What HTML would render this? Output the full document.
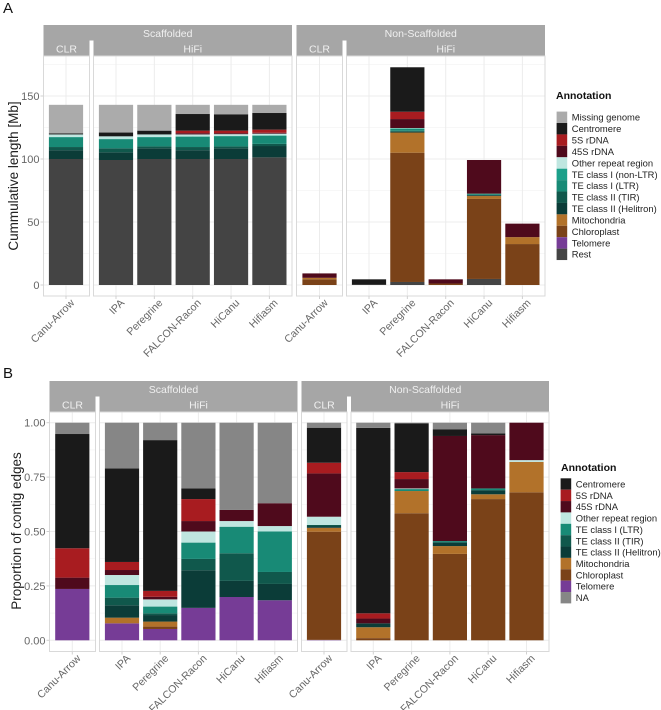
<!DOCTYPE html>
<html lang="en">
<head>
<meta charset="utf-8">
<title>Cumulative length and proportion of contig edges by annotation</title>
<style>
  html, body { margin: 0; padding: 0; background: #ffffff; overflow: hidden; }
  #figure { display: block; width: 661px; height: 710px; font-family: "Liberation Sans", sans-serif; filter: blur(0.35px); }
  #figure text { font-family: "Liberation Sans", sans-serif; }
</style>
</head>
<body>
<svg id="figure" xmlns="http://www.w3.org/2000/svg" width="661" height="710" viewBox="0 0 661 710">
  <text x="3" y="13" font-size="15" fill="#111">A</text>
  <text x="3" y="378" font-size="15" fill="#111">B</text>
  <text transform="translate(18,176) rotate(-90)" text-anchor="middle" font-size="13.5" fill="#222">Cummulative length [Mb]</text>
  <text transform="translate(21,531) rotate(-90)" text-anchor="middle" font-size="13.5" fill="#222">Proportion of contig edges</text>
  <g id="chart-a"></g>
  <g id="chart-b"></g>
  <text x="556" y="99" font-size="10.5" font-weight="bold" fill="#111">Annotation</text>
  <text x="561" y="471" font-size="10.5" font-weight="bold" fill="#111">Annotation</text>
  <g id="legend-a"></g>
  <g id="legend-b"></g>
</svg>
<script>
// Shared categories
const assemblers = ['Canu-Arrow', 'IPA', 'Peregrine', 'FALCON-Racon', 'HiCanu', 'Hifiasm'];

// Panel A: length in Mb. Order: six scaffolded then six non-scaffolded assemblers.
const aRest      = [100, 99.2, 100, 100, 100, 101.3,   0, 0.2, 2.4, 0, 4.8, 0];
const aTelomere  = [0, 0, 0, 0, 0, 0,                  0, 0, 0, 0, 0, 0];
const aChloro    = [0, 0, 0, 0, 0, 0,                  4.5, 0, 102.6, 1.2, 63.5, 32.5];
const aMito      = [0, 0, 0, 0, 0, 0,                  1.2, 0, 16, 0, 2.3, 5.5];
const aHelitron  = [7, 6.1, 8.5, 7, 8.5, 9,            0, 0, 0.6, 0, 0.6, 0];
const aTir       = [2.5, 3.2, 1.5, 2.5, 1.5, 1.7,      0, 0, 0.8, 0, 0.4, 0];
const aLtr       = [7.7, 7.2, 7.2, 8.2, 8, 6.5,        0, 0, 1.7, 0, 0.8, 0];
const aNonLtr    = [0.3, 0.3, 0.3, 0.3, 0.3, 0.3,      0, 0, 0.3, 0, 0.1, 0];
const aOther     = [2, 2, 2, 1.5, 1.4, 1.3,            0, 0, 0.2, 0, 0, 0];
const a45s       = [0, 0, 0, 1, 0.8, 0.7,              3.5, 0, 7.1, 3.3, 26.7, 10.7];
const a5s        = [0, 0, 0, 2, 2, 2.5,                0, 0, 5.8, 0, 0, 0];
const aCentro    = [0.9, 3, 3, 13.2, 13, 13.2,         0, 4.3, 35.3, 0, 0, 0];
const aMissing   = [22.6, 22, 20.5, 7.3, 7.5, 6.5,     0, 0, 0, 0, 0, 0];
const aTicks     = [0, 50, 100, 150];
const aTickLabels = ['0', '50', '100', '150'];
const aMinorTicks = [25, 75, 125, 175];

// Panel B: proportion of contig edges.
const bTelomere  = [0.236, 0.078, 0.052, 0.149, 0.199, 0.184,  0.002, 0, 0, 0, 0, 0];
const bChloro    = [0, 0, 0.011, 0, 0, 0,                      0.497, 0.01, 0.584, 0.397, 0.649, 0.68];
const bMito      = [0, 0.026, 0.023, 0, 0, 0,                  0.018, 0.05, 0.102, 0.036, 0.022, 0.14];
const bHelitron  = [0, 0.057, 0.03, 0.173, 0.074, 0.075,       0.006, 0.018, 0, 0.017, 0.019, 0];
const bTir       = [0, 0.035, 0.008, 0.052, 0.127, 0.055,      0.007, 0, 0, 0, 0, 0];
const bLtr       = [0, 0.058, 0.031, 0.075, 0.122, 0.186,      0, 0, 0.009, 0.006, 0.008, 0];
const bOther     = [0, 0.046, 0.033, 0.051, 0.026, 0.025,      0.038, 0, 0.003, 0, 0, 0.008];
const b45s       = [0.052, 0.023, 0.012, 0.048, 0.051, 0.105,  0.199, 0.022, 0.043, 0.483, 0.245, 0.172];
const b5s        = [0.135, 0.037, 0.027, 0.101, 0, 0,          0.049, 0.024, 0.032, 0, 0, 0];
const bCentro    = [0.525, 0.43, 0.693, 0.049, 0, 0,           0.161, 0.852, 0.224, 0.031, 0.008, 0];
const bNa        = [0.052, 0.21, 0.08, 0.302, 0.401, 0.37,     0.023, 0.024, 0.003, 0.03, 0.049, 0];
const bTicks     = [0, 0.25, 0.5, 0.75, 1];
const bTickLabels = ['0.00', '0.25', '0.50', '0.75', '1.00'];
const bMinorTicks = [0.125, 0.375, 0.625, 0.875];

// Series tables (bottom of the stack first)
const seriesA = [
  ['Rest', aRest, '#444444'], ['Telomere', aTelomere, '#763c96'], ['Chloroplast', aChloro, '#7a4218'],
  ['Mitochondria', aMito, '#b2722a'], ['TE class II (Helitron)', aHelitron, '#0b3c38'], ['TE class II (TIR)', aTir, '#10584c'],
  ['TE class I (LTR)', aLtr, '#188a76'], ['TE class I (non-LTR)', aNonLtr, '#1ba08a'], ['Other repeat region', aOther, '#bfe6e0'],
  ['45S rDNA', a45s, '#4f0a1c'], ['5S rDNA', a5s, '#a81c20'], ['Centromere', aCentro, '#1a1a1a'], ['Missing genome', aMissing, '#ababab']
];
const seriesB = [
  ['Telomere', bTelomere, '#763c96'], ['Chloroplast', bChloro, '#7a4218'], ['Mitochondria', bMito, '#b2722a'],
  ['TE class II (Helitron)', bHelitron, '#0b3c38'], ['TE class II (TIR)', bTir, '#10584c'], ['TE class I (LTR)', bLtr, '#188a76'],
  ['Other repeat region', bOther, '#bfe6e0'], ['45S rDNA', b45s, '#4f0a1c'], ['5S rDNA', b5s, '#a81c20'],
  ['Centromere', bCentro, '#1a1a1a'], ['NA', bNa, '#868686']
];
const legendOrderA = ['Missing genome', 'Centromere', '5S rDNA', '45S rDNA', 'Other repeat region', 'TE class I (non-LTR)', 'TE class I (LTR)', 'TE class II (TIR)', 'TE class II (Helitron)', 'Mitochondria', 'Chloroplast', 'Telomere', 'Rest'];
const legendOrderB = ['Centromere', '5S rDNA', '45S rDNA', 'Other repeat region', 'TE class I (LTR)', 'TE class II (TIR)', 'TE class II (Helitron)', 'Mitochondria', 'Chloroplast', 'Telomere', 'NA'];

const NS = 'http://www.w3.org/2000/svg';
function make(parent, tag, attrs, txt) {
  const node = document.createElementNS(NS, tag);
  for (const k in attrs) node.setAttribute(k, attrs[k]);
  if (txt !== undefined) node.textContent = txt;
  parent.appendChild(node);
  return node;
}
function slug(s) { return s.toLowerCase().replace(/[^a-z0-9]+/g, '-').replace(/^-|-$/g, ''); }

function drawChart(root, cfg) {
  const stripFill = '#a6a6a6';
  const yScale = function (v) { return cfg.y0 - v * cfg.yPerUnit; };
  cfg.facets.forEach(function (f) {
    const fg = make(root, 'g', {});
    
    
    // Outer strip
    const s1 = make(fg, 'rect', { x: f.x0, y: cfg.stripTop, width: f.x3 - f.x0, height: cfg.panelTop - cfg.stripTop, fill: stripFill });
    
    
    const gap = make(fg, 'rect', { x: f.x1, y: cfg.stripTop + 15.5, width: f.x2 - f.x1, height: cfg.panelTop - cfg.stripTop - 15.5, fill: '#ffffff' });
    
    
    const t1 = make(fg, 'text', { x: (f.x0 + f.x3) / 2, y: cfg.stripTop + 12, 'text-anchor': 'middle', 'font-size': 10.5, fill: '#f0f0f0' }, f.title);
    
    
    const t2 = make(fg, 'text', { x: (f.x0 + f.x1) / 2, y: cfg.stripTop + 27.5, 'text-anchor': 'middle', 'font-size': 10.5, fill: '#f0f0f0' }, 'CLR');
    
    
    const t3 = make(fg, 'text', { x: (f.x2 + f.x3) / 2, y: cfg.stripTop + 27.5, 'text-anchor': 'middle', 'font-size': 10.5, fill: '#f0f0f0' }, 'HiFi');
    
    

    // Panels and grid
    [[f.x0, f.x1], [f.x2, f.x3]].forEach(function (p) {
      cfg.minorTicks.forEach(function (t) {
        const g = make(fg, 'line', { x1: p[0], x2: p[1], y1: yScale(t), y2: yScale(t), stroke: '#f4f4f4', 'stroke-width': 0.7 });
        
        
      });
      cfg.ticks.forEach(function (t) {
        const g = make(fg, 'line', { x1: p[0], x2: p[1], y1: yScale(t), y2: yScale(t), stroke: '#ececec', 'stroke-width': 1 });
        
        
      });
    });
    f.centers.forEach(function (c) {
      const g = make(fg, 'line', { x1: c, x2: c, y1: cfg.panelTop, y2: cfg.panelBottom, stroke: '#ececec', 'stroke-width': 1 });
      
      
    });

    // Stacked bars
    f.centers.forEach(function (c, i) {
      const catIndex = f.offset + i;
      let total = 0;
      const barGroup = make(fg, 'g', {});
      
      
      cfg.series.forEach(function (s) {
        const v = s[1][catIndex];
        if (!v) return;
        const yTop = yScale(total + v);
        const yBot = yScale(total);
        total += v;
        const seg = make(barGroup, 'rect', { x: c - 17.1, y: yTop, width: 34.2, height: yBot - yTop, fill: s[2] });
        
        
      });
    });

    // Panel borders
    [[f.x0, f.x1], [f.x2, f.x3]].forEach(function (p) {
      const b = make(fg, 'rect', { x: p[0], y: cfg.panelTop, width: p[1] - p[0], height: cfg.panelBottom - cfg.panelTop, fill: 'none', stroke: '#d9d9d9', 'stroke-width': 1 });
      
      
    });

    // X axis
    f.centers.forEach(function (c, i) {
      const tick = make(fg, 'line', { x1: c, x2: c, y1: cfg.panelBottom, y2: cfg.panelBottom + 3, stroke: '#d0d0d0', 'stroke-width': 1 });
      
      
      const lab = make(fg, 'text', { transform: 'translate(' + (c + 9) + ',' + (cfg.panelBottom + 7.5) + ') rotate(-45)', 'text-anchor': 'end', 'font-size': 10.6, fill: '#666666' }, assemblers[i]);
      
      
    });
  });

  // Y axis
  const x = cfg.facets[0].x0;
  cfg.ticks.forEach(function (t, i) {
    const tick = make(root, 'line', { x1: x - 3, x2: x, y1: yScale(t), y2: yScale(t), stroke: '#d0d0d0', 'stroke-width': 1 });
    
    
    const lab = make(root, 'text', { x: x - 4, y: yScale(t) + 4, 'text-anchor': 'end', 'font-size': 11, fill: '#666666' }, cfg.tickLabels[i]);
    
    
  });
}

function hiFiCenters(first, step) {
  return [0, 1, 2, 3, 4, 5].map(function (i) { return i === 0 ? first[0] : first[1] + (i - 1) * step; });
}

drawChart(document.getElementById('chart-a'), {
  series: seriesA, ticks: aTicks, tickLabels: aTickLabels, minorTicks: aMinorTicks,
  y0: 285, yPerUnit: 1.26, stripTop: 25, panelTop: 56, panelBottom: 296,
  facets: [
    { title: 'Scaffolded', offset: 0, x0: 43.5, x1: 89.5, x2: 93.5, x3: 292, centers: hiFiCenters([66, 116], 38.35) },
    { title: 'Non-Scaffolded', offset: 6, x0: 296.5, x1: 342.5, x2: 346.5, x3: 545, centers: hiFiCenters([319.5, 369], 38.35) }
  ]
});
drawChart(document.getElementById('chart-b'), {
  series: seriesB, ticks: bTicks, tickLabels: bTickLabels, minorTicks: bMinorTicks,
  y0: 640.3, yPerUnit: 217.6, stripTop: 381, panelTop: 412, panelBottom: 651.5,
  facets: [
    { title: 'Scaffolded', offset: 0, x0: 49.5, x1: 95.5, x2: 99.5, x3: 297.5, centers: hiFiCenters([72.3, 122], 38.2) },
    { title: 'Non-Scaffolded', offset: 6, x0: 301.5, x1: 347, x2: 351, x3: 549, centers: hiFiCenters([324, 373.3], 38.3) }
  ]
});

function drawLegend(root, order, series, xSwatch, yFirst, step) {
  order.forEach(function (name, i) {
    const s = series.find(function (e) { return e[0] === name; });
    const cy = yFirst + i * step;
    const sw = make(root, 'rect', { x: xSwatch, y: cy - step / 2, width: 10.6, height: step, fill: s[2] });
    
    
    const lab = make(root, 'text', { x: xSwatch + 15.2, y: cy + 3.4, 'font-size': 9.4, fill: '#222222' }, name);
    
    
  });
}
drawLegend(document.getElementById('legend-a'), legendOrderA, seriesA, 556.6, 117.3, 11.42);
drawLegend(document.getElementById('legend-b'), legendOrderB, seriesB, 560.6, 484, 11.37);
</script>
</body>
</html>
